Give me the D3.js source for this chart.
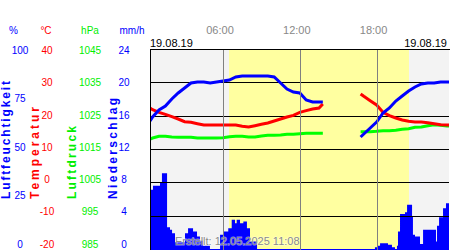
<!DOCTYPE html>
<html>
<head>
<meta charset="utf-8">
<script src="https://cdn.jsdelivr.net/npm/d3@7"></script>
<style>
  body { margin: 0; background: #fff; }
  svg { display: block; font-family: "Liberation Sans", Arial, sans-serif; }
</style>
</head>
<body>
<div id="chart"></div>
<script>
// measurement times (hours of the day), null marks the gap in the record
var hours = [0.3, 0.5, 1, 1.5, 2, 2.5, 3, 3.5, 4, 4.5, 5, 5.5, 6, 6.5, 7, 7.5, 8, 8.5, 9, 9.5,
  10, 10.5, 11, 11.5, 12, 12.5, 13, 13.5, 13.8, 15, 16.75, 17, 17.5, 18, 18.5, 19, 19.5,
  20, 20.5, 21, 21.5, 22, 22.5, 23, 23.5, 23.7];
var humidity = [64, 66, 69.5, 71.5, 75, 78, 80.5, 83, 83.5, 83.5, 83, 83.5, 84, 84.5, 86, 86.5,
  86.5, 86.5, 86.5, 86.5, 86, 83, 80, 78.5, 78, 74.5, 73.5, 73.5, 73.5, null, 56, 57.5, 60.5,
  63.5, 68, 70.5, 74, 76.5, 79, 81, 82.5, 83, 83, 83.5, 83.5, 83.5];
var temperature = [22.3, 21.8, 21.0, 20.4, 19.7, 19.0, 18.2, 18.0, 17.6, 17.2, 17.2, 17.2, 17.2,
  17.2, 17.2, 16.8, 16.6, 17.0, 17.4, 17.8, 18.4, 19.0, 19.6, 20.1, 21.0, 21.5, 22.0, 22.3, 23.5,
  null, 26.5, 25.8, 24.5, 23.2, 21.0, 20.0, 19.3, 18.7, 18.3, 18.1, 18.1, 17.9, 17.6, 17.3, 17.2, 17.2];
var pressure = [1018.0, 1018.3, 1018.8, 1018.8, 1018.6, 1018.5, 1018.5, 1018.5, 1018.3, 1018.3,
  1018.3, 1018.3, 1018.4, 1018.7, 1018.8, 1018.8, 1018.6, 1018.6, 1018.9, 1019.1, 1019.1, 1019.2,
  1019.4, 1019.4, 1019.6, 1019.7, 1019.7, 1019.7, 1019.7, null, 1020.2, 1020.2, 1020.2, 1020.3,
  1020.5, 1020.5, 1020.6, 1020.9, 1021.1, 1021.5, 1021.6, 1022.0, 1022.3, 1022.1, 1021.9, 1021.9];

// precipitation steps: start hour of each step and its rate (mm/h)
var rainHours = [0.3, 0.53, 1.08, 1.23, 1.63, 1.86, 2.02, 2.25, 3.03, 3.27, 3.66, 3.97, 4.2, 4.44,
  4.98, 5.77, 6.02, 6.41, 6.68, 6.94, 7.07, 7.33, 7.59, 7.87, 8.11, 8.66, 17.87, 18.03, 18.27,
  18.89, 19.2, 19.44, 19.59, 19.67, 19.83, 20.22, 20.38, 20.77, 20.84, 21.0, 21.39, 21.63, 22.64,
  22.72, 22.88, 23.19, 23.42, 23.7];
var rainValues = [7.1, 7.6, 8.0, 9.1, 2.6, 2.3, 1.9, 0.8, 1.9, 2.5, 2.1, 1.5, 1.0, 0.4,
  0, 1.7, 2.1, 2.5, 3.5, 3.1, 3.5, 3.1, 3.3, 2.5, 0.9, 0, 0.2, 0.4, 0.7,
  0.5, 0.2, 0, 0.4, 2.1, 4.2, 4.4, 5.3, 3.9, 1.7, 1.5, 0.6, 2.3, 0.9,
  2.8, 3.8, 4.9, 5.5, 5.5];

var humidityTicks = [0, 25, 50, 75, 100];
var tempTicks = [-20, -10, 0, 10, 20, 30, 40];
var pressureTicks = [985, 995, 1005, 1015, 1025, 1035, 1045];
var rainTicks = [0, 4, 8, 12, 16, 20, 24];
var timeTicks = [6, 12, 18];
var timeLabels = ["06:00", "12:00", "18:00"];
var sunrise = 6.47, sunset = 20.53;
var dayLabel = "19.08.19";
var createdLabel = "Erstellt: 12.05.2025 11:08";

var W = 450, H = 250;
var pLeft = 150, pRight = 449, pTop = 49, pBottom = 249;

var svg = d3.select("#chart").append("svg")
  .attr("width", W).attr("height", H);

var x = d3.scaleLinear().domain([0, 24]).range([146.2, 146.2 + 24 * 12.8]);
var yHum = d3.scaleLinear().domain([0, 100]).range([pBottom, pTop]);
var yTemp = d3.scaleLinear().domain([-20, 40]).range([pBottom, pTop]);
var yPres = d3.scaleLinear().domain([985, 1045]).range([pBottom, pTop]);
var yRain = d3.scaleLinear().domain([0, 24]).range([pBottom, pTop]);
// tick labels are spread evenly a bit inside the plot height
var yLab = d3.scaleLinear().domain([0, 1]).range([247.5, 54]);

svg.append("clipPath").attr("id", "plotclip")
  .append("rect").attr("x", pLeft).attr("y", pTop)
  .attr("width", pRight - pLeft).attr("height", pBottom - pTop + 1);

var plot = svg.append("g").attr("clip-path", "url(#plotclip)");

// night / day background
plot.append("rect").attr("x", pLeft).attr("y", pTop)
  .attr("width", pRight - pLeft).attr("height", pBottom - pTop + 1).attr("fill", "#f3f3f3");
plot.append("rect").attr("x", x(sunrise)).attr("y", pTop)
  .attr("width", x(sunset) - x(sunrise)).attr("height", pBottom - pTop + 1).attr("fill", "#ffffa0");

// precipitation
var rainData = rainHours.map(function(h, i) { return [h, rainValues[i]]; });
plot.append("path").datum(rainData)
  .attr("fill", "#0000ff")
  .attr("d", d3.area().curve(d3.curveStepAfter)
    .x(function(d) { return x(d[0]); })
    .y0(yRain(0) + 1)
    .y1(function(d) { return yRain(d[1]); }));

// horizontal grid
plot.selectAll("line.grid").data(tempTicks.slice(1, -1)).enter().append("line")
  .attr("class", "grid")
  .attr("x1", pLeft).attr("x2", pRight)
  .attr("y1", function(d) { return Math.round(yTemp(d)) + 0.5; })
  .attr("y2", function(d) { return Math.round(yTemp(d)) + 0.5; })
  .attr("stroke", "#000").attr("stroke-width", 1);

function drawSeries(values, scale, color) {
  var pts = hours.map(function(h, i) { return [h, values[i]]; });
  plot.append("path").datum(pts)
    .attr("fill", "none").attr("stroke", color).attr("stroke-width", 3)
    .attr("d", d3.line()
      .defined(function(d) { return d[1] != null; })
      .x(function(d) { return x(d[0]); })
      .y(function(d) { return scale(d[1]); }));
}
drawSeries(pressure, yPres, "#00ff00");
drawSeries(temperature, yTemp, "#ff0000");
drawSeries(humidity, yHum, "#0000ff");

// time lines
plot.selectAll("line.time").data(timeTicks).enter().append("line")
  .attr("class", "time")
  .attr("x1", function(d) { return Math.round(x(d)) + 0.5; })
  .attr("x2", function(d) { return Math.round(x(d)) + 0.5; })
  .attr("y1", pTop).attr("y2", pBottom + 1)
  .attr("stroke", "#808080").attr("stroke-width", 1);

// frame
svg.append("line").attr("x1", pLeft + 0.5).attr("x2", pLeft + 0.5).attr("y1", pTop).attr("y2", H)
  .attr("stroke", "#000");
svg.append("line").attr("x1", pLeft).attr("x2", pRight + 1).attr("y1", pTop + 0.5).attr("y2", pTop + 0.5)
  .attr("stroke", "#000");

// created stamp
svg.append("text").attr("x", 175).attr("y", 245)
  .attr("font-size", 11).attr("fill", "#8a8a8a")
  .attr("stroke", "#ffffff").attr("stroke-width", 1.2).attr("stroke-opacity", 0.5)
  .attr("paint-order", "stroke")
  .text(createdLabel);

// time labels and dates
svg.selectAll("text.time").data(timeTicks).enter().append("text")
  .attr("x", function(d) { return x(d) - 3; }).attr("y", 34)
  .attr("text-anchor", "middle").attr("font-size", 11).attr("fill", "#888")
  .text(function(d, i) { return timeLabels[i]; });
svg.append("text").attr("x", pLeft).attr("y", 47).attr("font-size", 11).attr("fill", "#000").text(dayLabel);
svg.append("text").attr("x", 447).attr("y", 47).attr("text-anchor", "end")
  .attr("font-size", 11).attr("fill", "#000").text(dayLabel);

// value columns
var columns = [
  { unit: "%", ux: 13.5, cx: 20, ticks: humidityTicks, color: "#0000ff" },
  { unit: "°C", ux: 46, cx: 47, ticks: tempTicks, color: "#ff0000" },
  { unit: "hPa", ux: 90, cx: 90, ticks: pressureTicks, color: "#00ee00" },
  { unit: "mm/h", ux: 132, cx: 124, ticks: rainTicks, color: "#0000ff" }
];
columns.forEach(function(c) {
  svg.append("text").attr("x", c.ux).attr("y", 34).attr("text-anchor", "middle")
    .attr("font-size", 10).attr("fill", c.color).text(c.unit);
  var lo = c.ticks[0], hi = c.ticks[c.ticks.length - 1];
  svg.selectAll(null).data(c.ticks).enter().append("text")
    .attr("x", c.cx)
    .attr("y", function(d) { return yLab((d - lo) / (hi - lo)); })
    .attr("text-anchor", "middle").attr("font-size", 10).attr("fill", c.color)
    .text(function(d) { return d; });
});

// rotated titles
var titles = [
  { text: "Luftfeuchtigkeit", x: 10, len: 118, color: "#0000ff" },
  { text: "Temperatur", x: 39, len: 92, color: "#ff0000" },
  { text: "Luftdruck", x: 75.5, len: 73, color: "#00ee00" },
  { text: "Niederschlag", x: 116.5, len: 101, color: "#0000ff" }
];
titles.forEach(function(t) {
  svg.append("text")
    .attr("transform", "translate(" + t.x + ",199) rotate(-90)")
    .attr("font-size", 12).attr("font-weight", "bold").attr("fill", t.color)
    .attr("textLength", t.len).attr("lengthAdjust", "spacing")
    .text(t.text);
});
</script>
</body>
</html>
